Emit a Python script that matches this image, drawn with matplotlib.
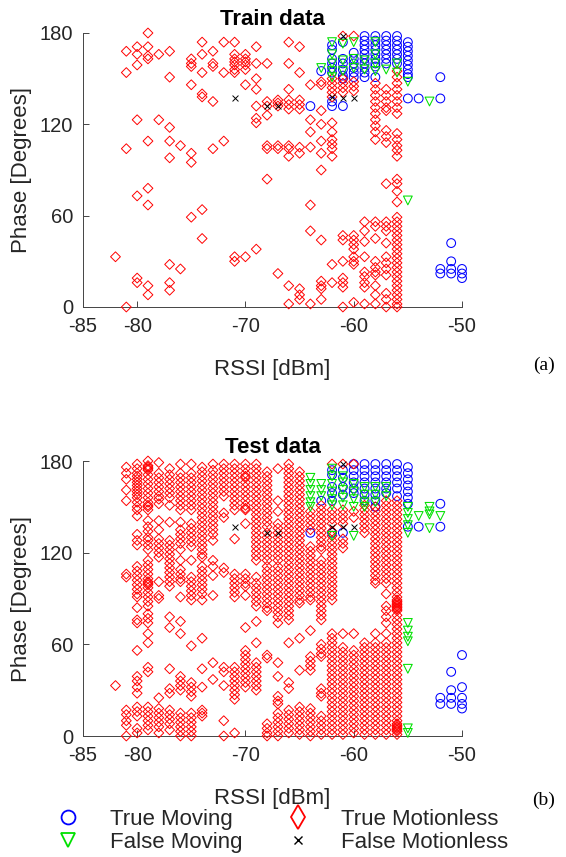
import matplotlib
matplotlib.use('Agg')  # no display here
import matplotlib.pyplot as plt
from matplotlib.lines import Line2D

plt.rcParams['font.family'] = ['Liberation Sans', 'DejaVu Sans']
plt.rcParams['axes.unicode_minus'] = False

# ---- train data: one list of phase values per RSSI column ----
train_still_rssi = [-82, -81, -80, -79, -78, -77, -76, -75, -74, -73, -72, -71, -70, -69,
                    -68, -67, -66, -65, -64, -63, -62, -61, -60, -59, -58, -57, -56]
train_still_phase = [
    [33],
    [168, 154, 104, 0],
    [171, 166, 159, 123, 73, 19, 16],
    [180, 171, 165, 163, 109, 78, 67, 14, 8],
    [166, 123],
    [168, 151, 118, 109, 98, 28, 16, 11],
    [106, 25],
    [163, 160, 158, 146, 101, 95, 59],
    [174, 166, 154, 140, 138, 64, 45],
    [168, 160, 158, 135, 104],
    [174, 154, 109],
    [174, 166, 163, 161, 159, 156, 154, 33, 30],
    [166, 163, 161, 159, 156, 146, 33],
    [171, 160, 150, 143, 132, 124, 121, 38],
    [160, 135, 132, 126, 106, 104, 84],
    [136, 134, 132, 106, 104, 22],
    [174, 160, 143, 136, 133, 130, 106, 104, 99, 14, 2],
    [171, 154, 136, 133, 130, 105, 101, 12, 8, 5],
    [146, 123, 115, 105, 67, 50, 2],
    [148, 146, 129, 120, 109, 101, 90, 44, 17, 14, 12, 5],
    [150, 147, 144, 141, 138, 121, 115, 110, 107, 104, 99, 28, 16],
    [178, 150, 147, 144, 141, 47, 44, 30, 19, 16, 13, 0],
    [178, 148, 145, 142, 47, 44, 41, 38, 33, 30, 28, 3],
    [56, 50, 43, 33, 23, 20, 16, 13, 2],
    [147, 143, 139, 135, 131, 127, 123, 119, 115, 110, 56, 53, 45, 30, 26, 23, 21, 14, 8, 2],
    [143, 139, 135, 131, 129, 116, 112, 108, 81, 56, 53, 50, 42, 33, 29, 25, 21, 9, 5, 0],
    [155, 151, 147, 143, 139, 135, 131, 127, 114, 110, 106, 103, 99, 84, 81, 76, 69, 59, 56,
     53, 50, 47, 44, 41, 38, 35, 32, 29, 26, 23, 20, 17, 14, 11, 8, 5, 2, 0],
]
train_moving_rssi = [-64, -63, -62, -61, -60, -59, -58, -57, -56, -55, -54, -52, -51, -50]
train_moving_phase = [
    [132],
    [155],
    [172, 169, 163, 160, 157, 154, 135, 132],
    [174, 163, 160, 156, 152, 150, 132],
    [167, 163, 160, 157, 154, 151],
    [178, 175, 172, 169, 166, 163, 160, 157, 154, 151],
    [178, 175, 172, 169, 166, 163, 160, 158, 151],
    [178, 175, 172, 169, 166, 163, 160],
    [178, 175, 172, 169, 166, 163, 160],
    [174, 171, 168, 165, 162, 159, 156, 153, 151, 137],
    [137],
    [151, 137, 25, 22],
    [42, 30, 25, 22],
    [25, 22, 19],
]
train_false_moving_rssi = [-63, -62, -61, -60, -59, -58, -57, -56, -55, -53]
train_false_moving_phase = [
    [157], [174, 166, 160, 155, 151], [173, 162, 155], [174, 163, 157], [162, 156],
    [174, 166, 160, 155], [156], [160, 154], [148, 70], [135],
]
train_false_still_rssi = [-71, -68, -67, -62, -61, -60]
train_false_still_phase = [[137], [132], [132], [138], [178, 137], [137]]

# ---- test data ----
test_still_rssi = [-82, -81, -80, -79, -78, -77, -76, -75, -74, -73, -72, -71, -70, -69,
                   -68, -67, -66, -65, -64, -63, -62, -61, -60, -59, -58, -57, -56]
test_still_phase = [
    [33],
    [176, 172, 168, 161, 154, 106, 104, 17, 14, 10, 7, 0],
    [178, 175, 172, 170, 168, 166, 164, 162, 160, 158, 156, 153, 150, 148, 144, 132, 128, 125,
     111, 108, 105, 102, 99, 96, 93, 91, 84, 76, 74, 56, 39, 36, 32, 28, 19, 16, 13, 5, 2],
    [180, 177, 176, 175, 174, 171, 168, 165, 162, 159, 156, 153, 151, 150, 148, 141, 137, 134,
     130, 128, 125, 122, 115, 112, 109, 106, 103, 101, 100, 99, 97, 94, 91, 88, 85, 80, 77, 74,
     67, 61, 45, 42, 19, 16, 13, 10, 7, 4],
    [179, 172, 169, 166, 163, 160, 157, 155, 152, 141, 135, 129, 126, 123, 120, 117, 101, 92,
     90, 25, 18, 15, 12, 9, 6, 2],
    [175, 171, 168, 165, 162, 159, 156, 151, 140, 128, 125, 122, 119, 116, 113, 110, 107, 104,
     101, 98, 78, 71, 44, 31, 28, 17, 14, 11, 8, 4],
    [178, 172, 169, 166, 163, 160, 157, 154, 151, 148, 140, 135, 132, 129, 126, 122, 115, 109,
     106, 103, 101, 91, 75, 67, 39, 36, 33, 30, 15, 12, 9, 6, 3, 0],
    [178, 172, 169, 166, 163, 160, 157, 154, 151, 148, 139, 136, 133, 130, 127, 124, 115, 104,
     101, 98, 95, 92, 89, 59, 35, 32, 29, 26, 15, 12, 9, 6, 3, 0],
    [176, 173, 170, 167, 164, 161, 158, 155, 152, 149, 146, 143, 140, 137, 134, 131, 128, 125,
     122, 119, 117, 111, 108, 105, 102, 99, 96, 93, 89, 64, 44, 32, 17, 15, 13],
    [178, 174, 171, 168, 165, 162, 159, 156, 153, 150, 147, 144, 141, 138, 135, 132, 128, 115,
     111, 105, 92, 48, 37],
    [178, 175, 172, 169, 166, 163, 160, 157, 146, 143, 110, 107, 45, 42, 33, 10, 0],
    [178, 175, 172, 169, 166, 163, 160, 157, 154, 151, 148, 129, 106, 103, 100, 97, 94, 91, 45,
     42, 39, 36, 33, 30, 27, 24, 2],
    [178, 175, 172, 170, 169, 166, 163, 160, 157, 154, 151, 149, 148, 139, 106, 103, 100, 98, 92,
     71, 56, 53, 50, 47, 44, 41, 38, 35, 32],
    [178, 175, 172, 169, 166, 163, 160, 157, 154, 151, 148, 145, 142, 139, 136, 133, 130, 127,
     124, 121, 118, 115, 104, 100, 97, 94, 91, 88, 85, 75, 61, 48, 45, 42, 39, 36, 33, 30],
    [173, 170, 167, 164, 161, 158, 155, 152, 149, 146, 143, 140, 137, 133, 130, 127, 124, 121,
     118, 115, 111, 108, 105, 102, 99, 96, 93, 90, 87, 84, 82, 53, 51, 8, 5, 2, 0],
    [175, 154, 147, 139, 136, 133, 130, 127, 124, 121, 118, 115, 111, 108, 105, 102, 99, 96, 93,
     90, 87, 84, 81, 78, 74, 48, 39, 26, 23, 21, 15, 12, 9, 6, 3, 0],
    [178, 175, 172, 169, 166, 163, 160, 157, 154, 151, 148, 145, 142, 139, 136, 133, 130, 127,
     124, 121, 118, 115, 112, 109, 106, 103, 100, 97, 94, 91, 88, 85, 82, 79, 76, 61, 35, 31,
     17, 14, 11, 8, 5, 2],
    [173, 170, 167, 164, 161, 158, 155, 152, 149, 146, 143, 140, 137, 134, 131, 128, 125, 122,
     119, 116, 113, 110, 107, 104, 101, 98, 95, 92, 89, 87, 64, 43, 19, 16, 13, 10, 7, 4, 1],
    [147, 144, 141, 138, 135, 124, 121, 118, 115, 112, 109, 106, 103, 100, 97, 94, 91, 89, 69,
     52, 49, 46, 43, 18, 15, 12, 9, 6, 3, 0],
    [151, 148, 145, 142, 139, 136, 133, 130, 127, 124, 122, 115, 112, 109, 106, 103, 100, 97, 94,
     91, 88, 85, 82, 79, 76, 60, 57, 54, 52, 31, 28, 26, 13, 10, 7, 4, 1],
    [178, 148, 145, 142, 139, 134, 131, 128, 125, 122, 119, 116, 113, 110, 107, 104, 101, 98, 95,
     92, 89, 67, 64, 61, 58, 55, 52, 49, 46, 43, 40, 37, 34, 31, 28, 25, 22, 19, 16, 13, 10, 7,
     4, 1],
    [178, 148, 145, 142, 139, 129, 126, 123, 67, 58, 55, 52, 49, 46, 43, 40, 37, 34, 31, 28, 25,
     22, 19, 16, 13, 10, 7, 4, 1],
    [178, 147, 143, 67, 56, 53, 50, 47, 44, 41, 38, 35, 32, 29, 26, 23, 20, 17, 14, 11, 8, 5, 2],
    [151, 148, 145, 142, 139, 136, 133, 61, 58, 55, 52, 49, 46, 43, 40, 37, 34, 31, 28, 25, 22,
     19, 16, 13, 10, 7, 4, 1],
    [150, 147, 144, 141, 138, 135, 132, 129, 126, 123, 120, 117, 114, 111, 108, 105, 102, 100,
     67, 61, 58, 55, 52, 49, 46, 43, 40, 37, 34, 31, 28, 25, 22, 19, 16, 13, 10, 7, 4, 1],
    [154, 151, 148, 145, 142, 139, 136, 133, 130, 127, 124, 121, 118, 115, 112, 109, 106, 103,
     100, 93, 85, 82, 78, 74, 67, 61, 58, 55, 52, 49, 46, 43, 40, 37, 34, 31, 28, 25, 22, 19,
     16, 13, 10, 7, 4, 1],
    [154, 151, 148, 145, 142, 139, 136, 133, 130, 127, 124, 121, 118, 115, 112, 109, 106, 103,
     100, 97, 94, 91, 89, 88, 87, 86, 85, 84, 83, 82, 79, 76, 73, 70, 67, 64, 61, 58, 55, 52,
     49, 46, 43, 40, 37, 34, 31, 28, 25, 22, 19, 16, 13, 10, 8, 7, 6, 5, 4, 3, 1],
]
test_moving_rssi = [-64, -63, -62, -61, -60, -59, -58, -57, -56, -55, -54, -52, -51, -50]
test_moving_phase = [
    [133],
    [154],
    [174, 171, 163, 159, 154, 133],
    [174, 169, 163, 158, 133],
    [178, 174, 170, 166, 162, 159],
    [178, 174, 170, 166, 162, 158, 154],
    [178, 174, 170, 166, 162, 158, 154, 150],
    [178, 174, 170, 166, 162, 159],
    [178, 174, 170, 166, 162, 157],
    [176, 172, 168, 164, 160, 156, 152, 137],
    [137],
    [152, 137, 25, 21],
    [42, 30, 25, 21],
    [53, 32, 25, 21, 18],
]
test_false_moving_rssi = [-64, -63, -62, -61, -60, -59, -58, -57, -55, -54, -53, -52]
test_false_moving_phase = [
    [169, 165, 161, 157, 153, 150],
    [165, 161, 157],
    [175, 170, 165, 160, 155, 151, 131],
    [170, 166, 161, 156, 151],
    [165, 160, 155, 150, 131],
    [163, 158, 153, 150],
    [163, 158, 153],
    [163, 157],
    [150, 146, 142, 138, 133, 74, 69, 65, 62, 44, 5, 2],
    [144],
    [150, 147, 145, 136],
    [144],
]
test_false_still_rssi = [-71, -68, -67, -62, -61, -60]
test_false_still_phase = [[137], [133], [133], [137], [178, 137], [137]]

x_ticks = [-85, -80, -70, -60, -50]
y_ticks = [0, 60, 120, 180]
legend_labels = ['True Moving', 'True Motionless', 'False Moving', 'False Motionless']

# marker styles, in drawing order
styles = [
    dict(marker='o', s=40, facecolors='none', edgecolors='#0000ff', linewidths=0.75),
    dict(marker='D', s=25, facecolors='none', edgecolors='#ff0000', linewidths=0.7),
    dict(marker='v', s=40, facecolors='none', edgecolors='#00e000', linewidths=0.75),
    dict(marker='x', s=18, c='#000000', linewidths=0.7),
]
INK = '#262626'


def flatten(cols, phases):
    xs, ys = [], []
    for c, ph in zip(cols, phases):
        xs += [c] * len(ph)
        ys += list(ph)
    return xs, ys


def draw_panel(ax, title, groups):
    for (cols, phases), st in zip(groups, styles):
        xs, ys = flatten(cols, phases)
        ax.scatter(xs, ys, clip_on=False, zorder=3, **st)
    ax.set_xlim(-85, -50)
    ax.set_ylim(0, 180)
    ax.set_xticks(x_ticks)
    ax.set_yticks(y_ticks)
    for side in ['top', 'right']:
        ax.spines[side].set_visible(False)
    for side in ['left', 'bottom']:
        ax.spines[side].set_color('#444444')
        ax.spines[side].set_linewidth(0.7)
    ax.tick_params(direction='in', length=4, width=0.7, color='#444444',
                   labelcolor=INK, labelsize=14.5, pad=7)
    ax.set_title(title, fontsize=16, fontweight='bold', color='black', pad=6)
    ax.set_xlabel('RSSI [dBm]', fontsize=16, color=INK, va='center')
    ax.set_ylabel('Phase [Degrees]', fontsize=16, color=INK, va='center')
    ax.xaxis.set_label_coords(0.5, -62 / 274)
    ax.yaxis.set_label_coords(-61 / 379, 0.5)


fig = plt.figure(figsize=(5.66, 8.57), dpi=100)
W, H = 566, 857
ax1 = fig.add_axes([83 / W, 1 - 307 / H, 379 / W, 274 / H])
ax2 = fig.add_axes([83 / W, 1 - 736 / H, 379 / W, 275 / H])

draw_panel(ax1, 'Train data', [
    (train_moving_rssi, train_moving_phase),
    (train_still_rssi, train_still_phase),
    (train_false_moving_rssi, train_false_moving_phase),
    (train_false_still_rssi, train_false_still_phase),
])
draw_panel(ax2, 'Test data', [
    (test_moving_rssi, test_moving_phase),
    (test_still_rssi, test_still_phase),
    (test_false_moving_rssi, test_false_moving_phase),
    (test_false_still_rssi, test_false_still_phase),
])

fig.text(544 / W, 1 - 365 / H, '(a)', family='Liberation Serif', fontsize=14,
         ha='center', va='center')
fig.text(544 / W, 1 - 800 / H, '(b)', family='Liberation Serif', fontsize=14,
         ha='center', va='center')

# legend, 2 columns: matplotlib fills column by column
handles = [
    Line2D([], [], ls='none', marker='o', ms=10, mfc='none', mec='#0000ff', mew=1.3),
    Line2D([], [], ls='none', marker='v', ms=10, mfc='none', mec='#00e000', mew=1.3),
    Line2D([], [], ls='none', marker='d', ms=12.5, mfc='none', mec='#ff0000', mew=1.3),
    Line2D([], [], ls='none', marker='x', ms=6, mec='#000000', mew=1.0),
]
labels = [legend_labels[0], legend_labels[2], legend_labels[1], legend_labels[3]]
fig.legend(handles, labels, ncol=2, frameon=False, loc='upper left',
           bbox_to_anchor=(57 / W, 1 - 809 / H), borderpad=0, borderaxespad=0,
           handlelength=1.0, handletextpad=1.4, columnspacing=2.0, labelspacing=0.1,
           prop={'size': 16}, labelcolor=INK)

fig.savefig('out.png', dpi=100)
